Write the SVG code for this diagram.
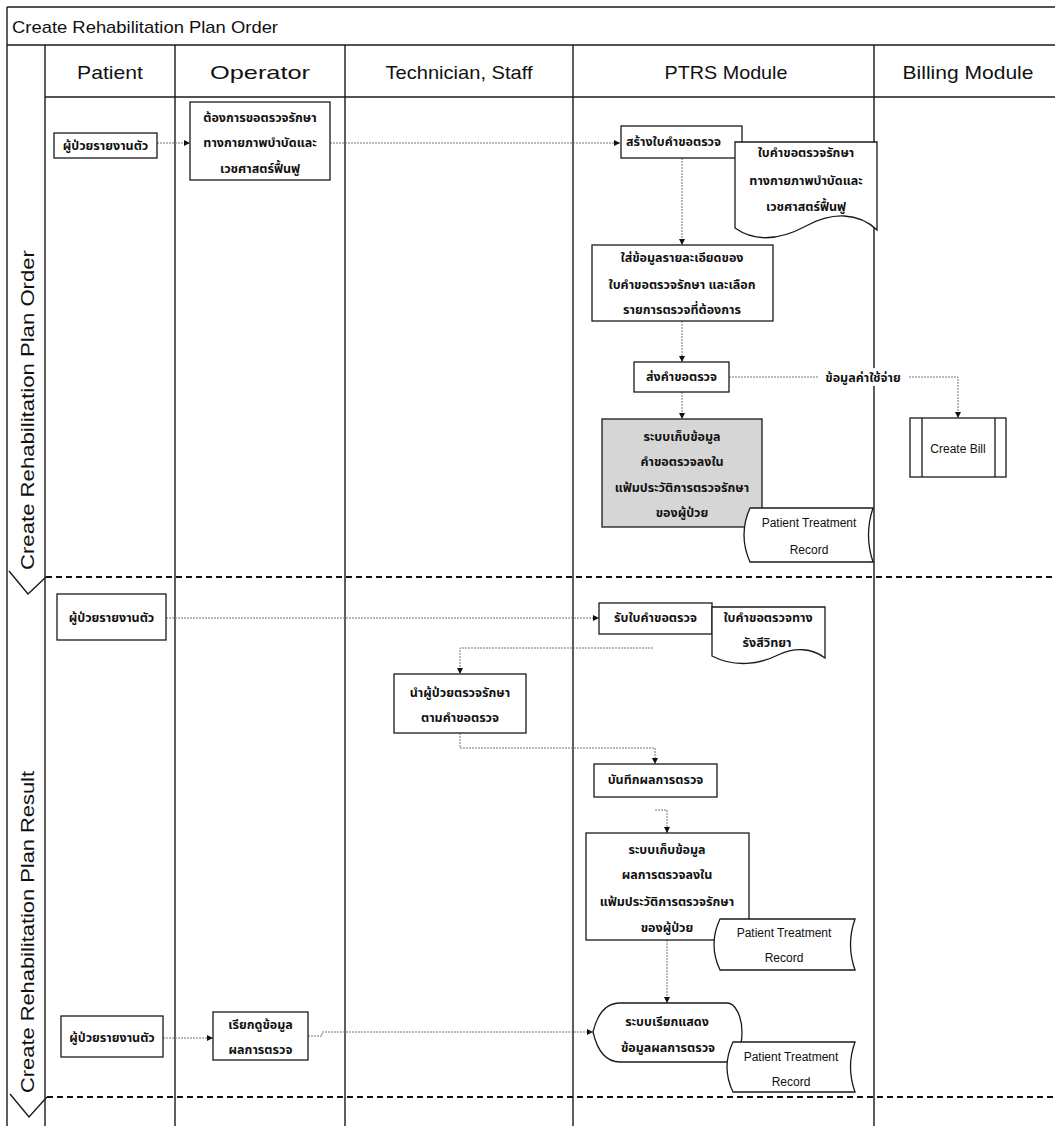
<svg xmlns="http://www.w3.org/2000/svg" width="1055" height="1126" viewBox="0 0 1055 1126">
  <defs>
    <marker id="arrow" markerWidth="6" markerHeight="6" refX="6" refY="3" orient="auto" markerUnits="userSpaceOnUse">
      <path d="M0,0 L6,3 L0,6 Z" fill="#111"/>
    </marker>
    <style>
      .frame { fill: none; stroke: #1a1a1a; stroke-width: 1.4; }
      .sep { fill: none; stroke: #111; stroke-width: 2.2; stroke-dasharray: 6 4; }
      .box { fill: #ffffff; stroke: #1a1a1a; stroke-width: 1.3; }
      .shade { fill: #d6d6d6; stroke: #1a1a1a; stroke-width: 1.3; }
      .conn { fill: none; stroke: #777; stroke-width: 1; stroke-dasharray: 2 1; }
      .title { font-family: "Liberation Sans", Arial, sans-serif; font-size: 17px; fill: #111; }
      .head { font-family: "Liberation Sans", Arial, sans-serif; font-size: 19px; fill: #111; text-anchor: middle; }
      .phase { font-family: "Liberation Sans", Arial, sans-serif; font-size: 19px; fill: #111; text-anchor: middle; }
      .th { font-family: "Liberation Sans", "Noto Sans Thai", "Noto Sans", "DejaVu Sans", sans-serif; font-size: 12.5px; font-weight: bold; fill: #111; text-anchor: middle; }
      .en { font-family: "Liberation Sans", Arial, sans-serif; font-size: 12px; fill: #111; text-anchor: middle; }
    </style>
  </defs>

  <rect x="0" y="0" width="1055" height="1126" fill="#ffffff"/>

  <!-- pool frame, title bar and lane header -->
  <g id="pool">
    <path class="frame" d="M7,7 H1055 M7,7 V1126 M7,45 H1055 M45,97 H1055"/>
    <text class="title" x="12" y="33" textLength="266" lengthAdjust="spacingAndGlyphs">Create Rehabilitation Plan Order</text>
  </g>

  <!-- lane dividers -->
  <g id="lanes">
    <path class="frame" d="M45,45 V1126 M175,45 V1126 M345,45 V1126 M573,45 V1126 M874,45 V1126"/>
    <text class="head" x="110" y="79" textLength="66" lengthAdjust="spacingAndGlyphs">Patient</text>
    <text class="head" x="260" y="79" textLength="100" lengthAdjust="spacingAndGlyphs">Operator</text>
    <text class="head" x="459" y="79" textLength="147" lengthAdjust="spacingAndGlyphs">Technician, Staff</text>
    <text class="head" x="726" y="79" textLength="123" lengthAdjust="spacingAndGlyphs">PTRS Module</text>
    <text class="head" x="968" y="79" textLength="131" lengthAdjust="spacingAndGlyphs">Billing Module</text>
  </g>

  <!-- phase bands -->
  <g id="phase-order">
    <polyline class="frame" points="9,571 28,594 46,577"/>
    <path class="sep" d="M46,577 H1055"/>
    <text class="phase" transform="translate(34,410) rotate(-90)" textLength="320" lengthAdjust="spacingAndGlyphs">Create Rehabilitation Plan Order</text>
  </g>
  <g id="phase-result">
    <polyline class="frame" points="10,1094 29,1117 47,1097"/>
    <path class="sep" d="M47,1097 H1055"/>
    <text class="phase" transform="translate(34,932) rotate(-90)" textLength="322" lengthAdjust="spacingAndGlyphs">Create Rehabilitation Plan Result</text>
  </g>

  <!-- connectors -->
  <g id="connectors">
    <path class="conn" d="M157,143 H190" marker-end="url(#arrow)"/>
    <path class="conn" d="M330,143 H620" marker-end="url(#arrow)"/>
    <path class="conn" d="M682,158 V245" marker-end="url(#arrow)"/>
    <path class="conn" d="M682,321 V362" marker-end="url(#arrow)"/>
    <path class="conn" d="M729,377 H958 V418" marker-end="url(#arrow)"/>
    <path class="conn" d="M682,392 V419" marker-end="url(#arrow)"/>
    <path class="conn" d="M166,618 H599" marker-end="url(#arrow)"/>
    <path class="conn" d="M653,648 H460 V674" marker-end="url(#arrow)"/>
    <path class="conn" d="M460,733 V748 H655 V764" marker-end="url(#arrow)"/>
    <path class="conn" d="M655,810 H667 V833" marker-end="url(#arrow)"/>
    <path class="conn" d="M667,940 V1003" marker-end="url(#arrow)"/>
    <path class="conn" d="M163,1038 H213" marker-end="url(#arrow)"/>
    <path class="conn" d="M308,1036 H322 V1032 H593" marker-end="url(#arrow)"/>
    <g id="cost-label">
      <rect x="818" y="368" width="90" height="18" fill="#ffffff"/>
      <text class="th" x="863" y="382">ข้อมูลค่าใช้จ่าย</text>
    </g>
  </g>

  <!-- phase 1 nodes -->
  <g id="patient-report-1">
    <rect class="box" x="54" y="133" width="103" height="25"/>
    <text class="th" x="105.5" y="150">ผู้ป่วยรายงานตัว</text>
  </g>
  <g id="operator-request">
    <rect class="box" x="190" y="102" width="140" height="78"/>
    <text class="th" x="260" y="122">ต้องการขอตรวจรักษา</text>
    <text class="th" x="260" y="147">ทางกายภาพบำบัดและ</text>
    <text class="th" x="260" y="173">เวชศาสตร์ฟื้นฟู</text>
  </g>
  <g id="create-request">
    <rect class="box" x="621" y="126" width="121" height="32"/>
    <text class="th" x="626" y="146" style="text-anchor:start">สร้างใบคำขอตรวจ</text>
  </g>
  <g id="request-document">
    <path class="box" d="M735,142 H877 V230 C858,212 832,212 806,226 C780,240 755,242 735,228 Z"/>
    <text class="th" x="806" y="157">ใบคำขอตรวจรักษา</text>
    <text class="th" x="806" y="185">ทางกายภาพบำบัดและ</text>
    <text class="th" x="806" y="211">เวชศาสตร์ฟื้นฟู</text>
  </g>
  <g id="enter-details">
    <rect class="box" x="592" y="245" width="181" height="76"/>
    <text class="th" x="682" y="262">ใส่ข้อมูลรายละเอียดของ</text>
    <text class="th" x="682" y="289">ใบคำขอตรวจรักษา และเลือก</text>
    <text class="th" x="682" y="314">รายการตรวจที่ต้องการ</text>
  </g>
  <g id="send-request">
    <rect class="box" x="634" y="362" width="95" height="30"/>
    <text class="th" x="681.5" y="381">ส่งคำขอตรวจ</text>
  </g>
  <g id="create-bill">
    <rect class="box" x="910" y="418" width="96" height="59"/>
    <path class="frame" d="M922,418 V477 M995,418 V477" style="stroke-width:1.3"/>
    <text class="en" x="958" y="453">Create Bill</text>
  </g>
  <g id="store-request">
    <rect class="shade" x="602" y="419" width="160" height="108"/>
    <text class="th" x="682" y="441">ระบบเก็บข้อมูล</text>
    <text class="th" x="682" y="466">คำขอตรวจลงใน</text>
    <text class="th" x="682" y="492">แฟ้มประวัติการตรวจรักษา</text>
    <text class="th" x="682" y="517">ของผู้ป่วย</text>
  </g>
  <g id="treatment-record-1">
    <path class="box" d="M750,508 H873 Q864,535 873,562 H750 Q738,535 750,508 Z"/>
    <text class="en" x="809" y="527">Patient Treatment</text>
    <text class="en" x="809" y="554">Record</text>
  </g>

  <!-- phase 2 nodes -->
  <g id="patient-report-2">
    <rect class="box" x="57" y="594" width="109" height="46"/>
    <text class="th" x="111.5" y="622">ผู้ป่วยรายงานตัว</text>
  </g>
  <g id="receive-request">
    <rect class="box" x="599" y="603" width="113" height="31"/>
    <text class="th" x="655.5" y="622">รับใบคำขอตรวจ</text>
  </g>
  <g id="radiology-document">
    <path class="box" d="M712,607 H825 V658 C812,648 795,647 778,655 C760,664 735,668 712,656 Z"/>
    <text class="th" x="768" y="622">ใบคำขอตรวจทาง</text>
    <text class="th" x="767" y="647">รังสีวิทยา</text>
  </g>
  <g id="take-patient">
    <rect class="box" x="394" y="674" width="132" height="59"/>
    <text class="th" x="460" y="697">นำผู้ป่วยตรวจรักษา</text>
    <text class="th" x="460" y="722">ตามคำขอตรวจ</text>
  </g>
  <g id="record-result">
    <rect class="box" x="594" y="764" width="123" height="33"/>
    <text class="th" x="655.5" y="784">บันทึกผลการตรวจ</text>
  </g>
  <g id="store-result">
    <rect class="box" x="586" y="833" width="163" height="107"/>
    <text class="th" x="667" y="854">ระบบเก็บข้อมูล</text>
    <text class="th" x="667" y="879">ผลการตรวจลงใน</text>
    <text class="th" x="667" y="906">แฟ้มประวัติการตรวจรักษา</text>
    <text class="th" x="667" y="932">ของผู้ป่วย</text>
  </g>
  <g id="treatment-record-2">
    <path class="box" d="M720,919 H855 Q846,944.5 855,970 H720 Q708,944.5 720,919 Z"/>
    <text class="en" x="784" y="937">Patient Treatment</text>
    <text class="en" x="784" y="962">Record</text>
  </g>
  <g id="show-result">
    <path class="box" d="M593,1032 Q600,1003 620,1003 H727 A15,29.5 0 0 1 727,1062 H620 Q600,1062 593,1032 Z"/>
    <text class="th" x="667" y="1026">ระบบเรียกแสดง</text>
    <text class="th" x="668" y="1052">ข้อมูลผลการตรวจ</text>
  </g>
  <g id="treatment-record-3">
    <path class="box" d="M733,1042 H855 Q846,1067 855,1092 H733 Q721,1067 733,1042 Z"/>
    <text class="en" x="791" y="1061">Patient Treatment</text>
    <text class="en" x="791" y="1086">Record</text>
  </g>
  <g id="patient-report-3">
    <rect class="box" x="61" y="1016" width="102" height="41"/>
    <text class="th" x="112" y="1042">ผู้ป่วยรายงานตัว</text>
  </g>
  <g id="operator-view">
    <rect class="box" x="213" y="1012" width="95" height="48"/>
    <text class="th" x="260.5" y="1029">เรียกดูข้อมูล</text>
    <text class="th" x="260.5" y="1054">ผลการตรวจ</text>
  </g>
</svg>
